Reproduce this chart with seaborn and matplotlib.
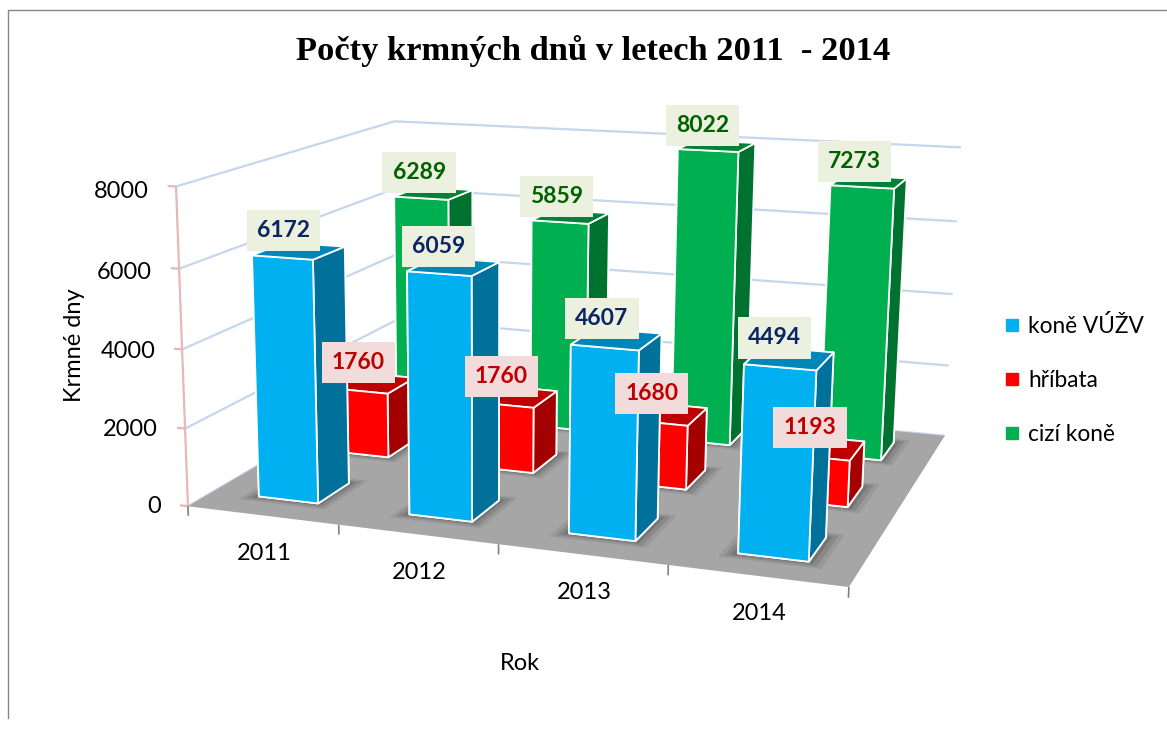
import numpy as np
import matplotlib
matplotlib.use('Agg')
import matplotlib.pyplot as plt
from matplotlib.lines import Line2D
from matplotlib.transforms import Affine2D
from mpl_toolkits.mplot3d import proj3d
from mpl_toolkits.mplot3d.art3d import Poly3DCollection, Line3DCollection
import seaborn as sns

# data
years = ['2011', '2012', '2013', '2014']
series_names = ['koně VÚŽV', 'hříbata', 'cizí koně']
kone_vuzv = [6172, 6059, 4607, 4494]
hribata = [1760, 1760, 1680, 1193]
cizi_kone = [6289, 5859, 8022, 7273]
z_ticks = [0, 2000, 4000, 6000, 8000]

front_colors = ['#00B0F0', '#FF0000', '#00B050']
side_colors = ['#00719B', '#A50000', '#00722F']
top_colors = ['#0086B8', '#C00000', '#008337']
text_colors = ['#0B2463', '#C00000', '#006100']
box_colors = ['#EBF1DE', '#F2DCDB', '#EBF1DE']

sns.set_theme(style='white')
plt.rcParams['font.family'] = ['Lato', 'DejaVu Sans']

W, H = 1167, 731
fig = plt.figure(figsize=(W / 100, H / 100), dpi=100, facecolor='white')
# square 3D axes, wider than the figure is tall, so nothing gets clipped
ax = fig.add_axes([0, (1 - W / H) / 2, 1, W / H], projection='3d')
ax.set_xticks([])
ax.set_yticks([])
ax.set_zticks([])
ax.set_axis_off()
ax.computed_zorder = False
ax.apply_aspect()

# camera fitted to the chart frame: (category, series, value) -> pixel
frame_3d = [(0, 0, 0), (4, 0, 0), (4, 3, 0), (0, 3, 0),
            (0, 0, 8000), (0, 3, 8000), (4, 3, 8000),
            (0, 0, 6000), (0, 0, 4000), (0, 0, 2000),
            (4, 3, 6000), (4, 3, 4000), (4, 3, 2000)]
frame_px = [(190, 503), (849, 591), (945, 433), (395, 389),
            (175, 188), (397, 119), (960, 149),
            (177, 269), (182, 349), (186, 427),
            (957, 223), (953, 293), (949, 363)]
rows = []
for (x, y, z), (u, v) in zip(frame_3d, frame_px):
    z = z / 8000
    rows.append([x, y, z, 1, 0, 0, 0, 0, -u * x, -u * y, -u * z, -u])
    rows.append([0, 0, 0, 0, x, y, z, 1, -v * x, -v * y, -v * z, -v])
P = np.linalg.svd(np.array(rows, dtype=float))[2][-1].reshape(3, 4)
P = P @ np.diag([1, 1, 1 / 8000, 1])
px_to_data = ax.transData.inverted().get_matrix() @ fig.transFigure.get_matrix() @ np.diag([1 / W, -1 / H, 1])
px_to_data = px_to_data @ np.array([[1, 0, 0], [0, 1, -H], [0, 0, 1]])
A = px_to_data @ P
depth = np.array([-0.3, 1, -1 / 8000, 0]) * P[2, 3] + 1e-4 * P[2]
M = np.vstack([A[0], A[1], depth, A[2]])
ax.get_proj = lambda: M


def label_at(x, y, z, s, dx, dy, **kw):
    # plain 2D text at a projected 3D point, offset in pixels (y pointing down)
    px, py, _ = proj3d.proj_transform(x, y, z, M)
    ax.text2D(px, py, s, transform=ax.transData + Affine2D().translate(dx, -dy),
              ha=kw.pop('ha', 'center'), va='center', zorder=10, **kw)


# floor
floor = Poly3DCollection([[(0, 0, 0), (4, 0, 0), (4, 3, 0), (0, 3, 0)]],
                         facecolor='#A6A6A6', edgecolor='none', zorder=1)
ax.add_collection3d(floor)

# walls
grid_segs = [[(0, 0, z), (0, 3, z), (4, 3, z)] for z in z_ticks]
ax.add_collection3d(Line3DCollection(grid_segs, colors='#C6D6EC', linewidths=1.6, zorder=0.5))
pink_segs = [[(0, 0, 0), (0, 0, 8000)]] + [[(-0.055, 0, z), (0, 0, z)] for z in z_ticks]
ax.add_collection3d(Line3DCollection(pink_segs, colors='#E6B8B7', linewidths=1.6, zorder=0.6))
tick_segs = [[(x, 0, 0), (x, 0, -250)] for x in range(5)]
ax.add_collection3d(Line3DCollection(tick_segs, colors='#808080', linewidths=1.2, zorder=0.7))

# bars, back row first
bar_w, bar_d = 0.40, 0.42
series = [kone_vuzv, hribata, cizi_kone]
for i in [2, 1, 0]:
    xs = np.arange(4) + 0.51 - bar_w / 2
    ys = np.full(4, i + 0.52 - bar_d / 2)
    # soft shadow on the floor
    for grow, alpha in [(0.09, 0.12), (0.06, 0.18), (0.03, 0.25)]:
        shadow = [[(x - grow, y - grow, 0), (x + bar_w + grow, y - grow, 0),
                   (x + bar_w + grow, y + bar_d + grow, 0), (x - grow, y + bar_d + grow, 0)]
                  for x, y in zip(xs, ys)]
        ax.add_collection3d(Poly3DCollection(shadow, facecolor='#404040', edgecolor='none',
                                             alpha=alpha, zorder=1.5))
    # bar3d face order: bottom, top, front, back, left, right
    face = [front_colors[i], top_colors[i], front_colors[i],
            side_colors[i], side_colors[i], side_colors[i]]
    ax.bar3d(xs, ys, np.zeros(4), bar_w, bar_d, series[i],
             color=face * 4, edgecolor='white', linewidth=1.3,
             shade=False, zorder=2 + (2 - i))

# data labels
for i in range(3):
    for j, val in enumerate(series[i]):
        label_at(j + 0.5, i + 0.5, val, str(val), -12, -21,
                 fontsize=16.5, fontweight='bold', color=text_colors[i],
                 bbox=dict(facecolor=box_colors[i], edgecolor='none',
                           boxstyle='square,pad=0.44'))

# axis text
for z in z_ticks:
    label_at(0, 0, z * 0.985, str(z), -27, 0, ha='right', fontsize=17, color='black')
for j, yr in enumerate(years):
    label_at(j + 0.5, 0, 0, yr, 2, 38, fontsize=17, color='black')

fig.text(593 / W, 1 - 51 / H, 'Počty krmných dnů v letech 2011  - 2014', ha='center',
         va='center', fontsize=24.8, fontweight='bold', family='Liberation Serif', color='black')
fig.text(520 / W, 1 - 664 / H, 'Rok', ha='center', va='center', fontsize=17, color='black')
fig.text(74 / W, 1 - 345 / H, 'Krmné dny', ha='center', va='center', rotation=90,
         fontsize=17, color='black')

# legend
handles = [Line2D([], [], marker='s', ls='none', color=c, markersize=8) for c in front_colors]
fig.legend(handles, series_names, loc='center left', bbox_to_anchor=(1003 / W, 1 - 380 / H),
           frameon=False, fontsize=16.3, labelspacing=1.44, handlelength=0.8, handletextpad=0.3,
           borderpad=0, borderaxespad=0, labelcolor='black')

# chart border
fig.add_artist(Line2D([8 / W, 8 / W, 1], [1 - 718 / H, 1 - 10 / H, 1 - 10 / H],
                      transform=fig.transFigure, color='#868686', lw=1.0))

fig.savefig('out.png', dpi=100)
